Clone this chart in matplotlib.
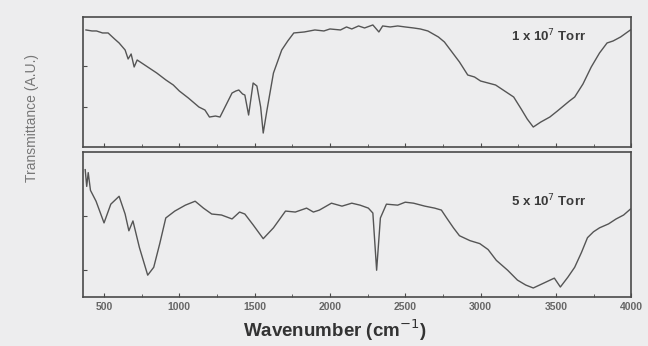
import matplotlib.pyplot as plt
from matplotlib.ticker import MultipleLocator

plt.rcParams['font.family'] = ['Liberation Sans', 'DejaVu Sans']

# top spectrum (1 x 10^7 Torr)
wn_top = [380, 420, 450, 490, 527, 570, 600, 640, 660, 680, 700, 720, 760, 800, 850, 911,
          960, 1000, 1060, 1130, 1170, 1200, 1240, 1270, 1310, 1350, 1375, 1395, 1420,
          1435, 1460, 1490, 1515, 1540, 1557, 1582, 1625, 1680, 1720, 1760, 1830, 1900,
          1960, 2000, 2070, 2110, 2145, 2190, 2230, 2285, 2325, 2350, 2400, 2450, 2500,
          2555, 2600, 2650, 2720, 2760, 2800, 2860, 2915, 2960, 3000, 3050, 3100, 3160,
          3220, 3270, 3310, 3350, 3400, 3460, 3510, 3550, 3590, 3625, 3680, 3735, 3790,
          3840, 3880, 3930, 3995]
tr_top = [117, 116, 116, 114, 114, 108, 104, 97, 88, 93, 80, 87, 83, 79, 74, 67,
          62, 56, 49, 40, 37, 30, 31, 30, 42, 54, 56, 57, 53,
          52, 32, 64, 61, 40, 14, 37, 74, 97, 106, 114, 115, 117,
          116, 118, 117, 120, 118, 121, 119, 122, 115, 121, 120, 121, 120,
          119, 118, 116, 110, 105, 97, 85, 72, 70, 66, 64, 62, 56,
          50, 38, 28, 20, 25, 30, 36, 41, 46, 50, 63, 80, 94,
          104, 106, 110, 117]

# bottom spectrum (5 x 10^7 Torr)
wn_bot = [375, 385, 395, 410, 447, 500, 545, 600, 640, 665, 692, 735, 790, 830, 870,
          910, 970, 1040, 1105, 1160, 1215, 1280, 1350, 1400, 1435, 1490, 1557, 1625,
          1705, 1770, 1845, 1890, 1930, 2010, 2080, 2145, 2200, 2255, 2285, 2310, 2335,
          2375, 2450, 2500, 2555, 2630, 2695, 2740, 2775, 2820, 2860, 2930, 2995, 3050,
          3105, 3180, 3245, 3300, 3350, 3420, 3490, 3530, 3580, 3625, 3670, 3710, 3750,
          3790, 3850, 3900, 3950, 3995]
tr_bot = [129, 112, 126, 108, 97, 75, 94, 102, 84, 67, 77, 50, 22, 30, 54,
          80, 87, 93, 97, 90, 84, 83, 79, 86, 84, 73, 59, 70,
          87, 86, 90, 86, 88, 95, 92, 95, 93, 90, 85, 27, 80,
          94, 93, 96, 95, 92, 90, 88, 80, 70, 62, 57, 54, 48,
          37, 27, 17, 12, 9, 14, 19, 10, 20, 30, 45, 60, 66,
          70, 74, 79, 83, 89]

xticks = [500, 1000, 1500, 2000, 2500, 3000, 3500, 4000]
labels = ['1 x 10$^{7}$ Torr', '5 x 10$^{7}$ Torr']

bg = '#ededee'
line_c = '#555555'
spine_c = '#4a4a4a'

fig = plt.figure(figsize=(6.48, 3.46), dpi=100, facecolor=bg)
ax1 = fig.add_axes([0.128, 0.575, 0.846, 0.376], facecolor=bg)
ax2 = fig.add_axes([0.128, 0.142, 0.846, 0.419], facecolor=bg)

for ax, wn, tr, lab, ylim, yt, ty in [
        (ax1, wn_top, tr_top, labels[0], (0, 130), [40, 81], 0.85),
        (ax2, wn_bot, tr_bot, labels[1], (0, 147), [27, 82], 0.66)]:
    ax.plot(wn, tr, color=line_c, lw=1.0)
    ax.set_xlim(360, 4000)
    ax.set_ylim(*ylim)
    ax.xaxis.set_major_locator(MultipleLocator(500))
    ax.xaxis.set_minor_locator(MultipleLocator(250))
    ax.set_yticks(yt)
    ax.set_yticklabels([])
    ax.tick_params(direction='in', length=3, width=0.8, colors=spine_c)
    ax.tick_params(which='minor', direction='in', length=2, width=0.6, colors=spine_c)
    for s in ax.spines.values():
        s.set_color(spine_c)
        s.set_linewidth(1.2)
    ax.text(0.85, ty, lab, transform=ax.transAxes, ha='center', va='center',
            fontsize=9.5, fontweight='bold', color='#3a3a3a')

ax1.set_xticklabels([])
ax2.set_xticks(xticks)
ax2.set_xticklabels([str(v) for v in xticks], fontsize=7.5, color='#666666',
                    fontweight='bold')
ax2.tick_params(axis='x', pad=4)

fig.text(0.375, 0.045, 'Wavenumber (cm$^{-1}$)', ha='left', va='center',
         fontsize=13.5, fontweight='bold', color='#333333')
fig.text(0.049, 0.66, 'Transmittance (A.U.)', rotation=90, ha='center', va='center',
         fontsize=10, color='#777777', fontstretch='condensed')

fig.savefig('out.png', dpi=100, facecolor=bg)
